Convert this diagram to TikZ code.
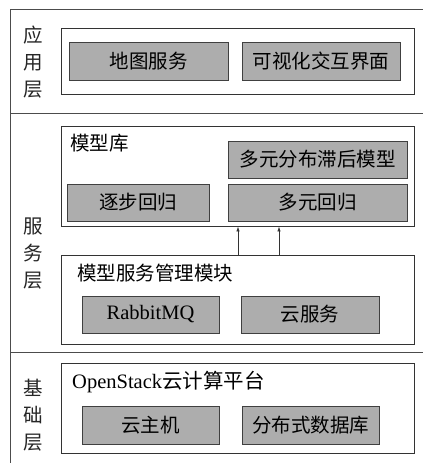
\documentclass[tikz,border=0pt]{standalone}
\usepackage{fontspec}
\setmainfont{Liberation Serif}
\newfontfamily\cjk{Noto Sans CJK SC}
\usetikzlibrary{arrows.meta}
\begin{document}
\begin{tikzpicture}[x=1pt,y=-1pt,
  frame/.style={draw=black!70, line width=0.9pt},
  outerbox/.style={draw=black!80, fill=white, line width=0.9pt, inner sep=0pt},
  graybox/.style={draw=black!75, fill=black!32, line width=0.9pt, inner sep=0pt,
    font=\cjk\fontsize{19.5}{22}\selectfont},
  lbl/.style={inner sep=0pt, anchor=west, font=\cjk\fontsize{19.5}{22}\selectfont},
  layerlbl/.style={inner sep=0pt, align=center, font=\cjk\fontsize{19.5}{27}\selectfont, text=black!85},
  arr/.style={draw=black!80, line width=0.8pt, -{Latex[length=5pt,width=3.5pt]}}
]
\useasboundingbox (0,0) rectangle (423,463);
\fill[white] (0,0) rectangle (423,463);
% outer frame
\draw[frame] (10,463) -- (10,9) -- (423,9);
\draw[frame] (10,113) -- (423,113);
\draw[frame] (10,352) -- (423,352);
% layer labels
\node[layerlbl] (L1) at (33,62) {应\\用\\层};
\node[layerlbl] (L2) at (33,254) {服\\务\\层};
\node[layerlbl] (L3) at (33,415) {基\\础\\层};
% application layer
\node[outerbox, minimum width=353pt, minimum height=66pt] (app) at (237.5,61) {};
\node[graybox, minimum width=159pt, minimum height=38pt] (map) at (148.5,61) {地图服务};
\node[graybox, minimum width=158pt, minimum height=38pt] (vis) at (321,61) {可视化交互界面};
% service layer: model library
\node[outerbox, minimum width=353pt, minimum height=100pt] (lib) at (237.5,176) {};
\node[lbl] (libt) at (70,143) {模型库};
\node[graybox, minimum width=179pt, minimum height=37pt] (mdl) at (317.5,159.5) {多元分布滞后模型};
\node[graybox, minimum width=142pt, minimum height=37pt] (step) at (138,202.5) {逐步回归};
\node[graybox, minimum width=179pt, minimum height=37pt] (mreg) at (317.5,202.5) {多元回归};
% service management module
\node[outerbox, minimum width=353pt, minimum height=89pt] (mgmt) at (237.5,299.5) {};
\node[lbl] (mgmtt) at (77,273) {模型服务管理模块};
\node[graybox, minimum width=137pt, minimum height=37pt, font=\fontsize{20.5}{22}\selectfont] (rmq) at (150.5,314.5) {RabbitMQ};
\node[graybox, minimum width=138pt, minimum height=37pt] (cs) at (310,314.5) {云服务};
% arrows
\coordinate (a1) at (238,240);
\coordinate (a2) at (279,240);
\draw[arr] (mgmt.north -| a1) -- (lib.south -| a1);
\draw[arr] (mgmt.north -| a2) -- (lib.south -| a2);
% base layer
\node[outerbox, minimum width=353pt, minimum height=90pt] (plat) at (237.5,408) {};
\node[lbl, font=\fontsize{20.5}{22}\selectfont] (platt) at (72,382) {OpenStack{\cjk 云计算平台}};
\node[graybox, minimum width=137pt, minimum height=38pt] (vm) at (150.5,425) {云主机};
\node[graybox, minimum width=137pt, minimum height=38pt] (db) at (310.5,425) {分布式数据库};
\end{tikzpicture}
\end{document}
